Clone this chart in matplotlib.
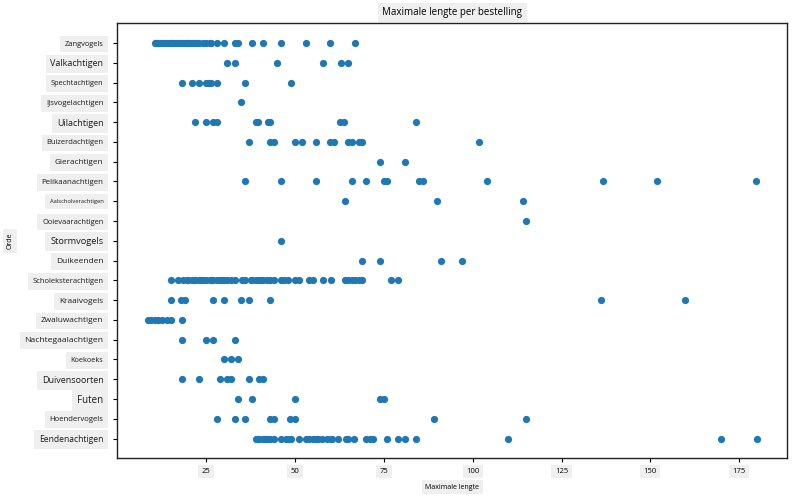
import matplotlib
matplotlib.use("Agg")
import matplotlib.pyplot as plt

plt.rcParams['font.family'] = ['Open Sans', 'DejaVu Sans']

# Categories from bottom (index 0) to top
orders = ["Eendenachtigen", "Hoendervogels", "Futen", "Duivensoorten", "Koekoeks",
          "Nachtegaalachtigen", "Zwaluwachtigen", "Kraaivogels", "Scholeksterachtigen",
          "Duikeenden", "Stormvogels", "Ooievaarachtigen", "Aalscholverachtigen",
          "Pelikaanachtigen", "Gierachtigen", "Buizerdachtigen", "Uilachtigen",
          "IJsvogelachtigen", "Spechtachtigen", "Valkachtigen", "Zangvogels"]

# approximate rendered widths (px) of each label in the reference (style)
label_widths = [64, 54, 26, 62, 32, 78, 62, 44, 72, 47, 53, 62, 54, 62, 48, 58, 47, 58, 53, 53, 39]

eendenachtigen = [39, 39.5, 40, 41, 41.5, 42, 43, 44, 46, 47.5, 48, 49, 51, 53, 54, 55, 56,
                  56.5, 57.5, 59, 60, 60.5, 62, 64.5, 65, 66.5, 70, 71, 72, 76, 79, 81, 84,
                  110, 170, 180]
hoendervogels = [28.2, 33, 36, 43, 44.2, 48.5, 50, 89.1, 114.9]
futen = [34.1, 38, 50, 73.8, 75.1]
duivensoorten = [18.1, 23.1, 29, 31, 32.1, 37.1, 40, 41.1]
koekoeks = [30.1, 32.1, 34.1]
nachtegaalachtigen = [18.1, 25.1, 27, 33]
zwaluwachtigen = [8.6, 9.5, 10.5, 11.5, 12.5, 13.9, 15, 18.1]
kraaivogels = [15, 18, 19.2, 27, 30.1, 34.8, 37.1, 43.1, 136, 159.8]
scholeksterachtigen = [15, 17, 18.5, 19.5, 20, 21, 21.5, 22, 23, 23.5, 24, 25, 26, 26.5, 27,
                       28, 29, 29.5, 30, 31, 32, 33, 35, 36, 37.5, 38, 39, 40, 40.5, 41, 42,
                       43, 44, 46, 47, 48, 50, 51, 54, 55, 58, 60, 64, 65, 66, 67, 68, 69,
                       77, 79]
duikeenden = [68.9, 73.8, 91.1, 96.9]
stormvogels = [46.1]
ooievaarachtigen = [114.9]
aalscholverachtigen = [64.1, 89.9, 114.1]
pelikaanachtigen = [36, 46.1, 55.9, 66.1, 70, 75.1, 76, 84.9, 85.9, 104, 136.8, 152, 179.8]
gierachtigen = [73.8, 80.9]
buizerdachtigen = [37.1, 43.1, 44.2, 50, 52, 55.9, 59.8, 60.9, 64.9, 66, 67.9, 69, 101.9]
uilachtigen = [22, 25, 27, 28.1, 38.9, 39.7, 42.3, 43.1, 62.8, 63.8, 84]
ijsvogelachtigen = [34.8]
spechtachtigen = [18.1, 21.1, 23.1, 24.9, 25.7, 26.4, 28.1, 36, 48.9]
valkachtigen = [30.9, 33, 44.9, 57.8, 62.9, 65]
zangvogels = [10.5, 11, 11.5, 12, 12.5, 13, 13.5, 14, 14.5, 15, 15.5, 16, 16.5, 17, 17.5, 18,
              18.5, 19, 19.5, 20, 20.5, 21, 21.5, 22, 22.5, 23, 24, 25, 26, 26.5, 28.1, 30.1,
              33, 34.1, 38, 41.1, 46.1, 53.1, 59.9, 66.9]

values = [eendenachtigen, hoendervogels, futen, duivensoorten, koekoeks, nachtegaalachtigen,
          zwaluwachtigen, kraaivogels, scholeksterachtigen, duikeenden, stormvogels,
          ooievaarachtigen, aalscholverachtigen, pelikaanachtigen, gierachtigen,
          buizerdachtigen, uilachtigen, ijsvogelachtigen, spechtachtigen, valkachtigen,
          zangvogels]

xticks = [25, 50, 75, 100, 125, 150, 175]

fig = plt.figure(figsize=(7.93, 4.96), dpi=100)
ax = fig.add_axes([0.148, 0.076, 0.845, 0.877])

xs, ys = [], []
for i, vals in enumerate(values):
    xs.extend(vals)
    ys.extend([i] * len(vals))
ax.scatter(xs, ys, s=27, color='#1f77b4', linewidths=0)

box = dict(facecolor='#efefef', edgecolor='none', pad=3.5)
ax.set_yticks(range(len(orders)))
ax.set_yticklabels(orders)

# scale label font sizes to reference widths
renderer = fig.canvas.get_renderer()
for lab, w in zip(ax.get_yticklabels(), label_widths):
    lab.set_fontsize(10)
    ext = lab.get_window_extent(renderer=renderer)
    lab.set_fontsize(10 * w / ext.width)
    lab.set_bbox(box)
    lab.set_color('#1a1a1a')

ax.set_xticks(xticks)
ax.set_xticklabels([str(t) for t in xticks], fontsize=5.5)
for lab in ax.get_xticklabels():
    lab.set_bbox(dict(facecolor='#efefef', edgecolor='none', pad=2.5))
ax.tick_params(axis='both', length=3, width=0.8)
ax.tick_params(axis='x', pad=4)
ax.tick_params(axis='y', pad=7)

ax.set_title("Maximale lengte per bestelling", fontsize=7,
             bbox=dict(facecolor='#efefef', edgecolor='none', pad=3), pad=6)
ax.set_xlabel("Maximale lengte", fontsize=5,
              bbox=dict(facecolor='#efefef', edgecolor='none', pad=2.5))
ax.xaxis.set_label_coords(0.5, -0.058)
ax.set_ylabel("Orde", fontsize=5,
              bbox=dict(facecolor='#efefef', edgecolor='none', pad=2.5))
ax.yaxis.set_label_coords(-0.155, 0.5)

for sp in ax.spines.values():
    sp.set_linewidth(1.0)
    sp.set_color('#222222')

fig.savefig("out.png", dpi=100)
